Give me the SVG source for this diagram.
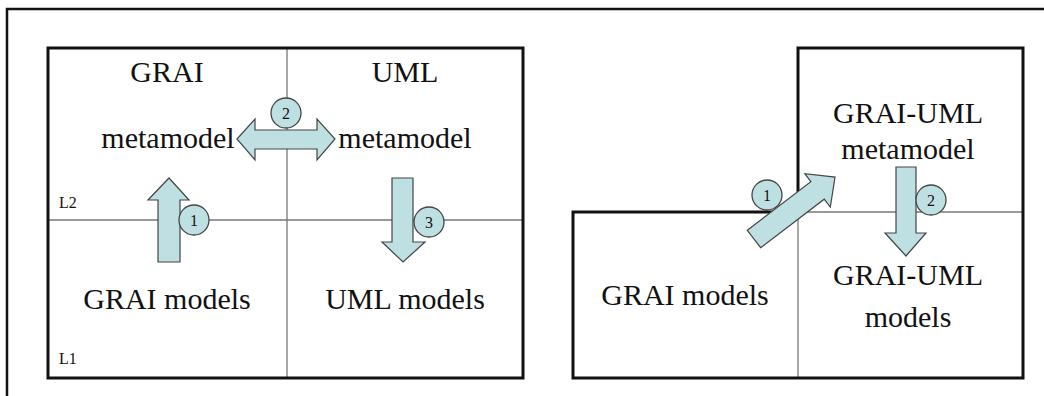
<svg xmlns="http://www.w3.org/2000/svg" width="1044" height="396" viewBox="0 0 1044 396">
<style>
.frame{fill:none;stroke:#111;stroke-width:2.5}
.box{fill:none;stroke:#111;stroke-width:3}
.div{stroke:#777;stroke-width:1.3;fill:none}
.arr{fill:#bfe0e3;stroke:#444;stroke-width:1.2;stroke-linejoin:miter}
.num{fill:#bfe0e3;stroke:#444;stroke-width:1.3}
.t{font-family:"Liberation Serif","Times New Roman",serif;font-size:30px;fill:#111;text-anchor:middle}
.s{font-family:"Liberation Serif","Times New Roman",serif;font-size:16px;fill:#111}
.n{font-family:"Liberation Serif","Times New Roman",serif;font-size:16px;fill:#111;text-anchor:middle}
</style>
<rect width="1044" height="396" fill="#fff"/>
<path class="frame" d="M7,396 V9 H1044"/>
<g id="left-panel">
  <line class="div" x1="287" y1="48" x2="287" y2="378"/>
  <line class="div" x1="48" y1="220" x2="523" y2="220"/>
  <rect class="box" x="48" y="48" width="475" height="330"/>
</g>
<g id="grai-metamodel">
  <text class="t" x="167" y="82">GRAI</text>
  <text class="t" x="168" y="148">metamodel</text>
</g>
<g id="uml-metamodel">
  <text class="t" x="405" y="82">UML</text>
  <text class="t" x="405" y="148">metamodel</text>
</g>
<g id="grai-models"><text class="t" x="167" y="309">GRAI models</text></g>
<g id="uml-models"><text class="t" x="405" y="309">UML models</text></g>
<g id="levels">
  <text class="s" x="59" y="208">L2</text>
  <text class="s" x="59" y="364">L1</text>
</g>
<g id="right-panel">
  <line class="div" x1="798" y1="212" x2="798" y2="378"/>
  <line class="div" x1="798" y1="212" x2="1023" y2="212"/>
  <path class="box" d="M573,212 H798 V48 H1023 V378 H573 Z"/>
</g>
<g id="grai-uml-metamodel">
  <text class="t" x="908" y="123">GRAI-UML</text>
  <text class="t" x="908" y="159">metamodel</text>
</g>
<g id="grai-uml-models">
  <text class="t" x="908" y="285">GRAI-UML</text>
  <text class="t" x="908" y="327">models</text>
</g>
<g id="grai-models-right"><text class="t" x="685" y="305">GRAI models</text></g>
<g id="connectors">
  <path class="arr" d="M158,262 V200 H148 L169,178 L189,200 H180 V262 Z"/>
  <path class="arr" d="M237,139 L255,119 V130 H317 V119 L335,139 L317,160 V149 H255 V160 Z"/>
  <path class="arr" d="M392,178 H413 V242 H425 L403,262 L382,242 H392 Z"/>
  <path class="arr" transform="translate(754,239) rotate(-37.4)" d="M0,-11 H80 V-21 L102,0 L80,21 V11 H0 Z"/>
  <path class="arr" d="M896,167 H916 V233 H926 L906,256 L885,233 H896 Z"/>
  <circle class="num" cx="194" cy="220" r="15"/><text class="n" x="194" y="226">1</text>
  <circle class="num" cx="286" cy="113" r="15"/><text class="n" x="286" y="119">2</text>
  <circle class="num" cx="429" cy="222" r="15"/><text class="n" x="429" y="228">3</text>
  <circle class="num" cx="767" cy="195" r="15"/><text class="n" x="767" y="201">1</text>
  <circle class="num" cx="931" cy="200" r="15"/><text class="n" x="931" y="206">2</text>
</g>
</svg>
